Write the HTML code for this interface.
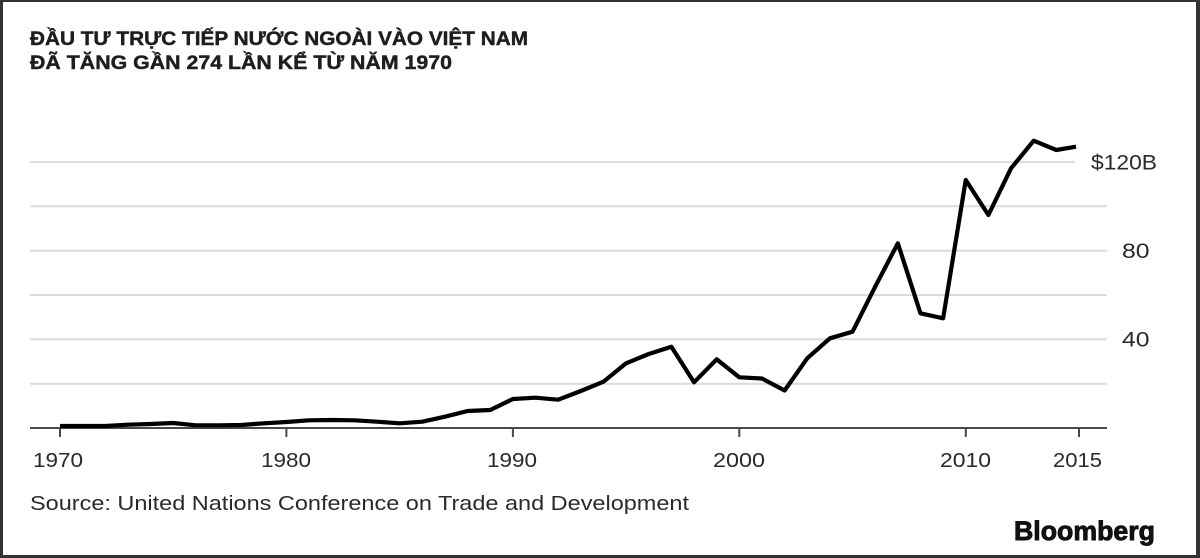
<!DOCTYPE html>
<html>
<head>
<meta charset="utf-8">
<style>
  html, body { margin:0; padding:0; background:#fff; }
  svg { display:block; }
</style>
</head>
<body>
<svg width="1200" height="558" viewBox="0 0 1200 558" xmlns="http://www.w3.org/2000/svg">
  <rect x="0" y="0" width="1200" height="558" fill="#ffffff"/>
  <!-- border -->
  <rect x="0" y="0" width="3" height="558" fill="#333"/>
  <rect x="0" y="0" width="1200" height="2" fill="#333"/>
  <rect x="1196" y="0" width="4" height="558" fill="#333"/>
  <rect x="0" y="555" width="1200" height="3" fill="#333"/>

  <!-- title -->
  <g font-family="'Liberation Sans', 'Noto Sans CJK SC', sans-serif" font-weight="bold" fill="#1e1e1e" stroke="#1e1e1e" stroke-width="0.45" font-size="19.5">
    <text x="30" y="45" textLength="498" lengthAdjust="spacingAndGlyphs">ĐẦU TƯ TRỰC TIẾP NƯỚC NGOÀI VÀO VIỆT NAM</text>
    <text x="30" y="69" textLength="422" lengthAdjust="spacingAndGlyphs">ĐÃ TĂNG GẦN 274 LẦN KỂ TỪ NĂM 1970</text>
  </g>

  <!-- gridlines -->
  <g stroke="#dcdcdc" stroke-width="2">
    <line x1="30" y1="162" x2="1075" y2="162"/>
    <line x1="30" y1="206.3" x2="1107" y2="206.3"/>
    <line x1="30" y1="250.7" x2="1107" y2="250.7"/>
    <line x1="30" y1="295" x2="1107" y2="295"/>
    <line x1="30" y1="339.3" x2="1107" y2="339.3"/>
    <line x1="30" y1="383.7" x2="1107" y2="383.7"/>
  </g>

  <!-- axis -->
  <g stroke="#4a4a4a" stroke-width="2">
    <line x1="30" y1="428" x2="1107" y2="428"/>
    <line x1="60" y1="428" x2="60" y2="437"/>
    <line x1="286.4" y1="428" x2="286.4" y2="437"/>
    <line x1="512.9" y1="428" x2="512.9" y2="437"/>
    <line x1="739.3" y1="428" x2="739.3" y2="437"/>
    <line x1="965.8" y1="428" x2="965.8" y2="437"/>
    <line x1="1079" y1="428" x2="1079" y2="437"/>
  </g>

  <!-- data line -->
  <polyline fill="none" stroke="#000" stroke-width="4.2" stroke-linejoin="round" stroke-linecap="butt"
    points="60,426 82.64,426 105.29,426 127.93,424.7 150.58,424 173.22,423 195.86,425.3 218.51,425.3 241.15,425 263.8,423.3 286.44,422 309.08,420.3 331.73,420 354.37,420.3 377.02,421.7 399.66,423.3 422.3,421.7 444.95,416.7 467.59,411 490.24,410 512.88,399 535.52,397.7 558.17,399.7 580.81,391 603.46,381.7 626.1,363.3 648.74,354 671.39,346.7 694.03,382.3 716.68,359.3 739.32,377.3 761.96,378.5 784.61,390.5 807.25,358.3 829.9,338.3 852.54,331.7 875.18,286.7 897.83,243.3 920.47,313.3 943.12,318.3 965.76,180 988.4,215 1011.05,168.3 1033.69,140.7 1056.34,150 1076,146.7"/>

  <!-- y labels -->
  <g font-family="'Liberation Sans', sans-serif" font-size="21" fill="#2a2a2a">
    <text x="1091" y="169.5" textLength="66" lengthAdjust="spacingAndGlyphs">$120B</text>
    <text x="1122" y="258" textLength="27.5" lengthAdjust="spacingAndGlyphs">80</text>
    <text x="1122" y="346.5" textLength="27.5" lengthAdjust="spacingAndGlyphs">40</text>
  </g>

  <!-- x labels -->
  <g font-family="'Liberation Sans', sans-serif" font-size="20" fill="#2a2a2a">
    <text x="33" y="467" textLength="50" lengthAdjust="spacingAndGlyphs">1970</text>
    <text x="261" y="467" textLength="50" lengthAdjust="spacingAndGlyphs">1980</text>
    <text x="487" y="467" textLength="50" lengthAdjust="spacingAndGlyphs">1990</text>
    <text x="713" y="467" textLength="52" lengthAdjust="spacingAndGlyphs">2000</text>
    <text x="940" y="467" textLength="51" lengthAdjust="spacingAndGlyphs">2010</text>
    <text x="1053" y="467" textLength="49" lengthAdjust="spacingAndGlyphs">2015</text>
  </g>

  <!-- source -->
  <text x="30" y="510" font-family="'Liberation Sans', sans-serif" font-size="20.5" fill="#2a2a2a" textLength="659" lengthAdjust="spacingAndGlyphs">Source: United Nations Conference on Trade and Development</text>

  <!-- Bloomberg -->
  <text x="1014" y="540" font-family="'Liberation Sans', sans-serif" font-weight="bold" font-size="27" fill="#111" stroke="#111" stroke-width="0.9" textLength="141" lengthAdjust="spacingAndGlyphs">Bloomberg</text>
</svg>
</body>
</html>
